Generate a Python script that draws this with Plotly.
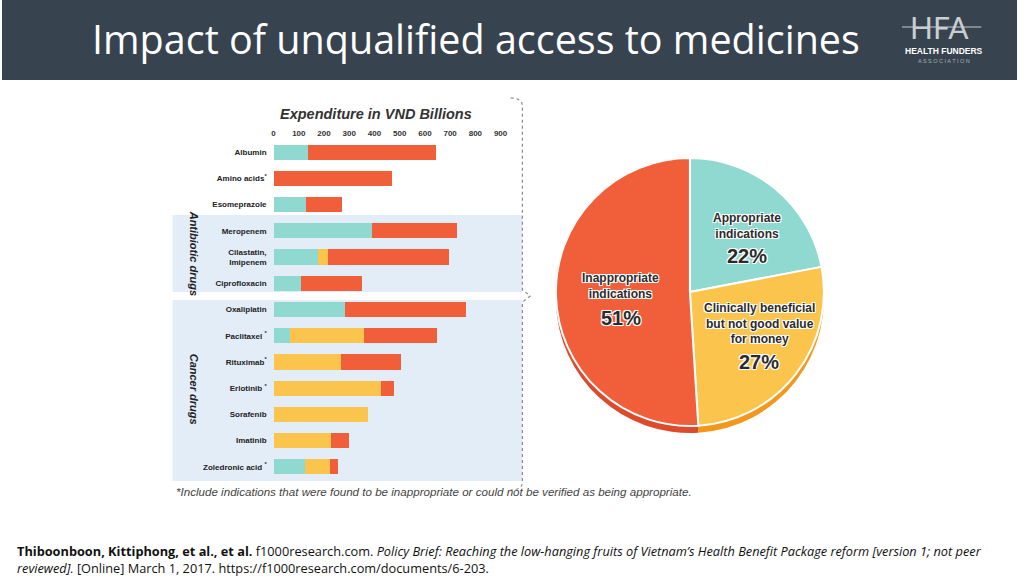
import plotly.graph_objects as go

# ---------------- data ----------------
drugs = ["Albumin", "Amino acids", "Esomeprazole", "Meropenem", "Cilastatin, Imipenem",
         "Ciprofloxacin", "Oxaliplatin", "Paclitaxel", "Rituximab", "Erlotinib",
         "Sorafenib", "Imatinib", "Zoledronic acid"]
drug_labels = ["Albumin", "Amino acids<sup>*</sup>", "Esomeprazole", "Meropenem",
               "Cilastatin,<br>Imipenem", "Ciprofloxacin", "Oxaliplatin",
               "Paclitaxel <sup>*</sup>", "Rituximab<sup>*</sup>", "Erlotinib <sup>*</sup>",
               "Sorafenib", "Imatinib", "Zoledronic acid <sup>*</sup>"]
appropriate = [137, 0, 128, 390, 176, 109, 282, 67, 0, 0, 0, 0, 126]
not_value = [0, 0, 0, 0, 40, 0, 0, 291, 267, 427, 373, 228, 99]
inappropriate = [506, 469, 143, 337, 480, 241, 479, 288, 239, 51, 0, 70, 30]
x_ticks = [0, 100, 200, 300, 400, 500, 600, 700, 800, 900]

pie_labels = ["Appropriate indications",
              "Clinically beneficial but not good value for money",
              "Inappropriate indications"]
pie_values = [22, 27, 51]

TEAL = "#8FD9D1"
YELLOW = "#FBC44C"
RED = "#F15E3A"
W, H = 1024, 576


def px(x, y):
    return x / W, 1 - y / H


fig = go.Figure()

series = [("Appropriate indications", appropriate, TEAL),
          ("Clinically beneficial but not good value for money", not_value, YELLOW),
          ("Inappropriate indications", inappropriate, RED)]
for name, vals, col in series:
    fig.add_trace(go.Bar(y=drugs, x=vals, orientation="h", name=name,
                         marker=dict(color=col, line=dict(width=0)),
                         hoverinfo="x+y+name"))

# pie with simulated 3D rim
rim_shift = 7 / H
pdx = [556 / W, 832 / W]
pdy = [1 - 426 / H, 1 - 158 / H]
fig.add_trace(go.Pie(labels=pie_labels, values=pie_values, sort=False, direction="clockwise",
                     rotation=0, textinfo="none", hoverinfo="skip",
                     marker=dict(colors=["#7cc7bf", "#F3981C", "#DC4C2C"],
                                 line=dict(color="#ffffff", width=0)),
                     domain=dict(x=pdx, y=[pdy[0] - rim_shift, pdy[1] - rim_shift])))
fig.add_trace(go.Pie(labels=pie_labels, values=pie_values, sort=False, direction="clockwise",
                     rotation=0, textinfo="none",
                     marker=dict(colors=[TEAL, YELLOW, RED],
                                 line=dict(color="#ffffff", width=2)),
                     domain=dict(x=pdx, y=pdy)))

shapes = []
# header bar
shapes.append(dict(type="rect", xref="paper", yref="paper", x0=0, x1=1, y0=1 - 80 / H, y1=1,
                   fillcolor="#37434E", line=dict(width=0), layer="below"))
# group bands
shapes.append(dict(type="rect", xref="paper", yref="paper", x0=172 / W, x1=525 / W,
                   y0=1 - 292 / H, y1=1 - 215 / H, fillcolor="#E3EDF8", line=dict(width=0),
                   layer="below"))
shapes.append(dict(type="rect", xref="paper", yref="paper", x0=172 / W, x1=525 / W,
                   y0=1 - 481 / H, y1=1 - 300 / H, fillcolor="#E3EDF8", line=dict(width=0),
                   layer="below"))


def P(x, y):
    a, b = px(x, y)
    return f"{a:.5f},{b:.5f}"


brace = (f"M{P(513,98)} Q{P(525,98)} {P(525,106)} L{P(525,290)} L{P(533,296)} "
         f"L{P(525,302)} L{P(525,482)} Q{P(525,490)} {P(513,490)}")
shapes.append(dict(type="path", xref="paper", yref="paper", path=brace,
                   line=dict(color="#8a8a8a", width=1.2, dash="dot")))
# logo line
shapes.append(dict(type="line", xref="paper", yref="paper", x0=908 / W, x1=988 / W,
                   y0=1 - 27 / H, y1=1 - 27 / H, line=dict(color="#c9ced2", width=1)))

ann = []


def A(text, x, y, size, color="#222", bold=False, italic=False, family="Liberation Sans",
      xanchor="center", angle=0, shadow=None, align="center"):
    t = text
    if bold:
        t = f"<b>{t}</b>"
    if italic:
        t = f"<i>{t}</i>"
    ax, ay = px(x, y)
    f = dict(size=size, color=color, family=family)
    if shadow:
        f["shadow"] = shadow
    ann.append(dict(text=t, x=ax, y=ay, xref="paper", yref="paper", showarrow=False,
                    xanchor=xanchor, yanchor="middle", font=f, textangle=angle, align=align))


A("Impact of unqualified access to medicines", 89, 39, 39.5, color="#ffffff",
  family="Open Sans", xanchor="left")
# logo
A("HFA", 946, 27, 30, color="#c9ced2", family="Lato")
A("<b>HEALTH FUNDERS</b>", 950, 51, 8.5, color="#ffffff", family="Liberation Sans")
A("A S S O C I A T I O N", 950, 61, 5.5, color="#aab2b8", family="Liberation Sans")

A("Expenditure in VND Billions", 377, 114, 14.5, color="#333", bold=True, italic=True)
A("Antibiotic drugs", 194, 253, 11, color="#222", bold=True, italic=True, angle=90)
A("Cancer drugs", 194, 389, 11, color="#222", bold=True, italic=True, angle=90)
A("*Include indications that were found to be inappropriate or could not be verified as being appropriate.",
  174, 491, 11.6, color="#444", italic=True, xanchor="left")

halo = "1px 1px 0 #fff, -1px -1px 0 #fff, 1px -1px 0 #fff, -1px 1px 0 #fff, 0 0 2px #fff"
A("Appropriate<br>indications", 752, 226, 12, color="#2b2b2b", bold=True, shadow=halo)
A("22%", 752, 256, 20, color="#2b2b2b", bold=True, shadow=halo)
A("Inappropriate<br>indications", 624, 286, 12, color="#2b2b2b", bold=True, shadow=halo)
A("51%", 624, 318, 20, color="#2b2b2b", bold=True, shadow=halo)
A("Clinically beneficial<br>but not good value<br>for money", 764, 323, 12, color="#2b2b2b",
  bold=True, shadow=halo)
A("27%", 764, 362, 20, color="#2b2b2b", bold=True, shadow=halo)

cite1 = ("<b>Thiboonboon, Kittiphong, et al., et al.</b> f1000research.com. <i>Policy Brief: Reaching the "
         "low-hanging fruits of Vietnam’s Health Benefit Package reform [version 1; not peer</i>")
cite2 = "<i>reviewed].</i> [Online] March 1, 2017. https://f1000research.com/documents/6-203."
A(cite1, 13, 551, 12.75, color="#111", family="Open Sans", xanchor="left")
A(cite2, 13, 568, 12.75, color="#111", family="Open Sans", xanchor="left")

fig.update_layout(
    width=W, height=H, margin=dict(l=0, r=0, t=0, b=0),
    paper_bgcolor="#ffffff", plot_bgcolor="rgba(0,0,0,0)",
    barmode="stack", bargap=0.42, showlegend=False,
    shapes=shapes, annotations=ann,
    xaxis=dict(domain=[274 / W, 503 / W], range=[0, 900], side="top", tickvals=x_ticks,
               showgrid=False, zeroline=False, showline=False, ticks="",
               tickfont=dict(family="Liberation Sans", size=8, color="#333", weight="bold")),
    yaxis=dict(domain=[1 - 480 / H, 1 - 139 / H], autorange="reversed", type="category",
               tickvals=drugs, ticktext=drug_labels, showgrid=False, zeroline=False,
               showline=False, ticks="", ticklabelstandoff=6,
               tickfont=dict(family="Liberation Sans", size=8, color="#222", weight="bold")),
)

fig.write_html("out.html", config={"displayModeBar": False},
               post_script=("document.body.style.margin='0';document.body.style.overflow='hidden';"
                            "document.documentElement.style.overflow='hidden';"))
